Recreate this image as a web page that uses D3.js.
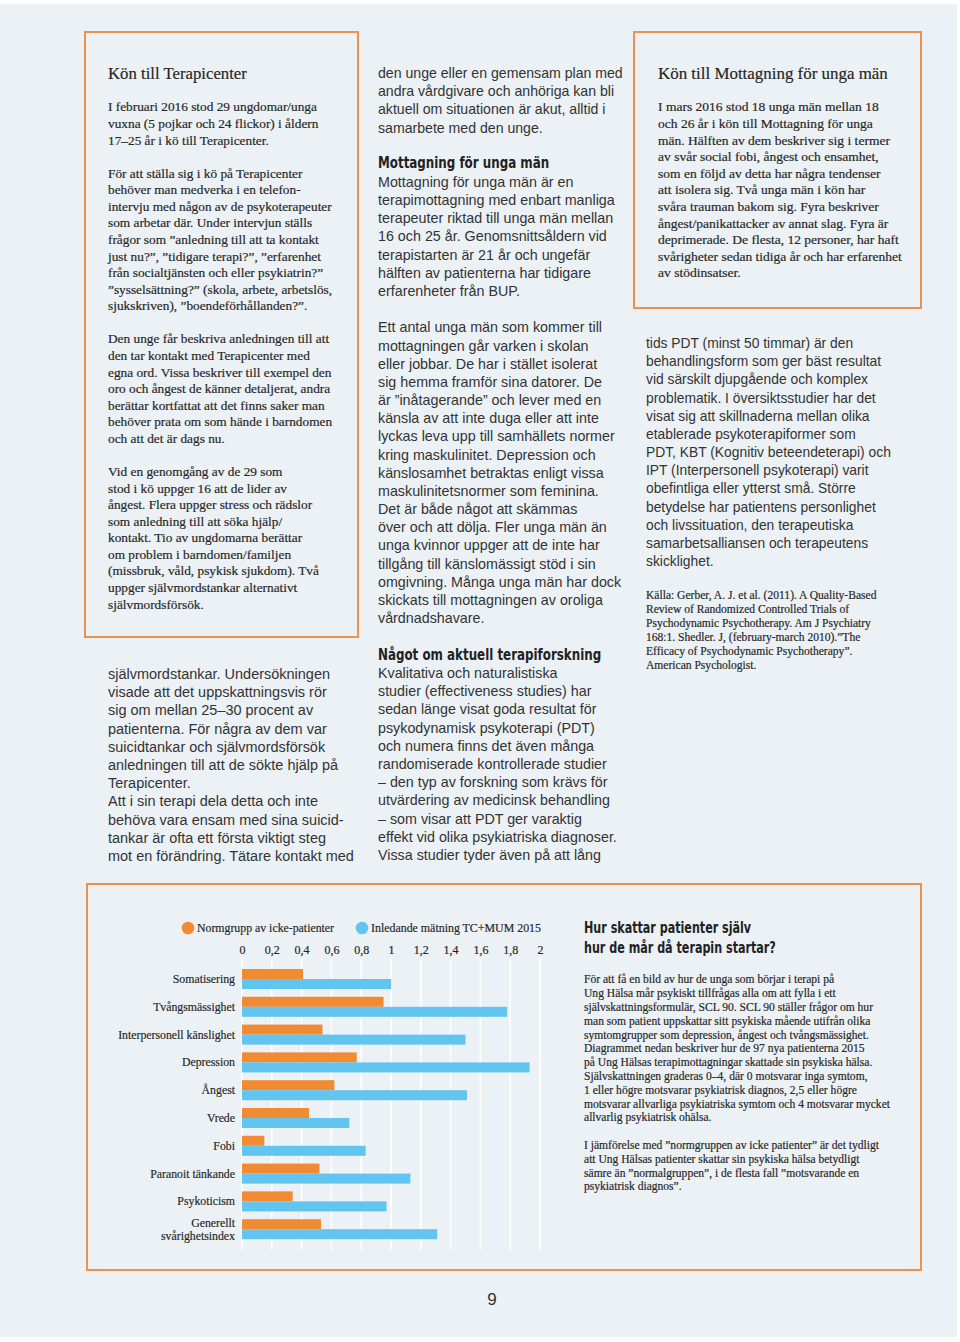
<!DOCTYPE html>
<html lang="sv">
<head>
<meta charset="utf-8">
<script src="https://cdn.jsdelivr.net/npm/d3@7"></script>
<style>
  html, body { margin: 0; padding: 0; background: #ffffff; }
  svg { display: block; }
  .serif { font-family: "Liberation Serif", "DejaVu Serif", serif; fill: #262626; stroke: #262626; stroke-width: 0.18px; }
  .sans { font-family: "Liberation Sans", Arial, sans-serif; fill: #333333; }
  .cond { font-family: "DejaVu Sans Condensed", "DejaVu Sans", sans-serif; font-stretch: condensed; font-weight: bold; fill: #222222; }
</style>
</head>
<body>
<svg id="page" width="960" height="1342"></svg>
<script>
// ---------------- Chart data ----------------
const categories = ["Somatisering", "Tvångsmässighet", "Interpersonell känslighet", "Depression", "Ångest", "Vrede", "Fobi", "Paranoit tänkande", "Psykoticism", "Generellt svårighetsindex"];
const categoryLabelLines = [["Somatisering"], ["Tvångsmässighet"], ["Interpersonell känslighet"], ["Depression"], ["Ångest"], ["Vrede"], ["Fobi"], ["Paranoit tänkande"], ["Psykoticism"], ["Generellt", "svårighetsindex"]];
const seriesNames = ["Normgrupp av icke-patienter", "Inledande mätning TC+MUM 2015"];
const normValues = [0.41, 0.95, 0.54, 0.77, 0.62, 0.45, 0.15, 0.52, 0.34, 0.53];
const patientValues = [1.00, 1.78, 1.50, 1.93, 1.51, 0.72, 0.83, 1.13, 0.97, 1.31];
const tickValues = [0, 0.2, 0.4, 0.6, 0.8, 1, 1.2, 1.4, 1.6, 1.8, 2];
const tickLabels = ["0", "0,2", "0,4", "0,6", "0,8", "1", "1,2", "1,4", "1,6", "1,8", "2"];
const seriesColors = ["#f28a32", "#62c5ef"];

// ---------------- Page text ----------------
const box1Title = "Kön till Terapicenter";
const box1Lines = [
  "I februari 2016 stod 29 ungdomar/unga",
  "vuxna (5 pojkar och 24 flickor) i åldern",
  "17–25 år i kö till Terapicenter.",
  "",
  "För att ställa sig i kö på Terapicenter",
  "behöver man medverka i en telefon-",
  "intervju med någon av de psykoterapeuter",
  "som arbetar där. Under intervjun ställs",
  "frågor som ”anledning till att ta kontakt",
  "just nu?”, ”tidigare terapi?”, ”erfarenhet",
  "från socialtjänsten och eller psykiatrin?”",
  "”sysselsättning?” (skola, arbete, arbetslös,",
  "sjukskriven), ”boendeförhållanden?”.",
  "",
  "Den unge får beskriva anledningen till att",
  "den tar kontakt med Terapicenter med",
  "egna ord. Vissa beskriver till exempel den",
  "oro och ångest de känner detaljerat, andra",
  "berättar kortfattat att det finns saker man",
  "behöver prata om som hände i barndomen",
  "och att det är dags nu.",
  "",
  "Vid en genomgång av de 29 som",
  "stod i kö uppger 16 att de lider av",
  "ångest. Flera uppger stress och rädslor",
  "som anledning till att söka hjälp/",
  "kontakt. Tio av ungdomarna berättar",
  "om problem i barndomen/familjen",
  "(missbruk, våld, psykisk sjukdom). Två",
  "uppger självmordstankar alternativt",
  "självmordsförsök."
];
const col1Lines = [
  "självmordstankar. Undersökningen",
  "visade att det uppskattningsvis rör",
  "sig om mellan 25–30 procent av",
  "patienterna. För några av dem var",
  "suicidtankar och självmordsförsök",
  "anledningen till att de sökte hjälp på",
  "Terapicenter.",
  "Att i sin terapi dela detta och inte",
  "behöva vara ensam med sina suicid-",
  "tankar är ofta ett första viktigt steg",
  "mot en förändring. Tätare kontakt med"
];
const col2aLines = [
  "den unge eller en gemensam plan med",
  "andra vårdgivare och anhöriga kan bli",
  "aktuell om situationen är akut, alltid i",
  "samarbete med den unge."
];
const col2Heading1 = "Mottagning för unga män";
const col2bLines = [
  "Mottagning för unga män är en",
  "terapimottagning med enbart manliga",
  "terapeuter riktad till unga män mellan",
  "16 och 25 år. Genomsnittsåldern vid",
  "terapistarten är 21 år och ungefär",
  "hälften av patienterna har tidigare",
  "erfarenheter från BUP.",
  "",
  "Ett antal unga män som kommer till",
  "mottagningen går varken i skolan",
  "eller jobbar. De har i stället isolerat",
  "sig hemma framför sina datorer. De",
  "är ”inåtagerande” och lever med en",
  "känsla av att inte duga eller att inte",
  "lyckas leva upp till samhällets normer",
  "kring maskulinitet. Depression och",
  "känslosamhet betraktas enligt vissa",
  "maskulinitetsnormer som feminina.",
  "Det är både något att skämmas",
  "över och att dölja. Fler unga män än",
  "unga kvinnor uppger att de inte har",
  "tillgång till känslomässigt stöd i sin",
  "omgivning. Många unga män har dock",
  "skickats till mottagningen av oroliga",
  "vårdnadshavare."
];
const col2Heading2 = "Något om aktuell terapiforskning";
const col2cLines = [
  "Kvalitativa och naturalistiska",
  "studier (effectiveness studies) har",
  "sedan länge visat goda resultat för",
  "psykodynamisk psykoterapi (PDT)",
  "och numera finns det även många",
  "randomiserade kontrollerade studier",
  "– den typ av forskning som krävs för",
  "utvärdering av medicinsk behandling",
  "– som visar att PDT ger varaktig",
  "effekt vid olika psykiatriska diagnoser.",
  "Vissa studier tyder även på att lång"
];
const box2Title = "Kön till Mottagning för unga män";
const box2Lines = [
  "I mars 2016 stod 18 unga män mellan 18",
  "och 26 år i kön till Mottagning för unga",
  "män. Hälften av dem beskriver sig i termer",
  "av svår social fobi, ångest och ensamhet,",
  "som en följd av detta har några tendenser",
  "att isolera sig. Två unga män i kön har",
  "svåra trauman bakom sig. Fyra beskriver",
  "ångest/panikattacker av annat slag. Fyra är",
  "deprimerade. De flesta, 12 personer, har haft",
  "svårigheter sedan tidiga år och har erfarenhet",
  "av stödinsatser."
];
const col3Lines = [
  "tids PDT (minst 50 timmar) är den",
  "behandlingsform som ger bäst resultat",
  "vid särskilt djupgående och komplex",
  "problematik. I översiktsstudier har det",
  "visat sig att skillnaderna mellan olika",
  "etablerade psykoterapiformer som",
  "PDT, KBT (Kognitiv beteendeterapi) och",
  "IPT (Interpersonell psykoterapi) varit",
  "obefintliga eller ytterst små. Större",
  "betydelse har patientens personlighet",
  "och livssituation, den terapeutiska",
  "samarbetsalliansen och terapeutens",
  "skicklighet."
];
const sourceLines = [
  "Källa: Gerber, A. J. et al. (2011). A Quality-Based",
  "Review of Randomized Controlled Trials of",
  "Psychodynamic Psychotherapy. Am J Psychiatry",
  "168:1.  Shedler. J, (february-march 2010).”The",
  "Efficacy of Psychodynamic Psychotherapy”.",
  "American Psychologist."
];
const chartHeadingLines = ["Hur skattar patienter själv", "hur de mår då terapin startar?"];
const chartTextLines = [
  "För att få en bild av hur de unga som börjar i terapi på",
  "Ung Hälsa mår psykiskt tillfrågas alla om att fylla i ett",
  "självskattningsformulär, SCL 90. SCL 90 ställer frågor om hur",
  "man som patient uppskattar sitt psykiska mående utifrån olika",
  "symtomgrupper som depression, ångest och tvångsmässighet.",
  "Diagrammet nedan beskriver hur de 97 nya patienterna 2015",
  "på Ung Hälsas terapimottagningar skattade sin psykiska hälsa.",
  "Självskattningen graderas 0–4, där 0 motsvarar inga symtom,",
  "1 eller högre motsvarar psykiatrisk diagnos, 2,5 eller högre",
  "motsvarar allvarliga psykiatriska symtom och 4 motsvarar mycket",
  "allvarlig psykiatrisk ohälsa.",
  "",
  "I jämförelse med ”normgruppen av icke patienter” är det tydligt",
  "att Ung Hälsas patienter skattar sin psykiska hälsa betydligt",
  "sämre än ”normalgruppen”, i de flesta fall ”motsvarande en",
  "psykiatrisk diagnos”."
];
const pageNumber = "9";

// ---------------- Drawing ----------------
const svg = d3.select("#page");

svg.append("rect").attr("x", 0).attr("y", 4).attr("width", 957).attr("height", 1333).attr("fill", "#ebf1f5");

const frames = [
  {x: 85, y: 32, w: 273, h: 605},
  {x: 634, y: 32, w: 287, h: 276},
  {x: 87, y: 884, w: 834, h: 386}
];
svg.selectAll("rect.frame").data(frames).join("rect")
  .attr("class", "frame")
  .attr("x", d => d.x).attr("y", d => d.y).attr("width", d => d.w).attr("height", d => d.h)
  .attr("fill", "none").attr("stroke", "#ea9250").attr("stroke-width", 2);

// text block with horizontal fit to measured reference width
function block(b) {
  const g = svg.append("g");
  const t = g.selectAll("text").data(b.lines).join("text")
    .attr("class", b.cls)
    .attr("x", 0)
    .attr("y", (d, i) => b.y + i * b.lh)
    .attr("font-size", b.size)
    .text(d => d);
  let k = 1;
  if (b.refW) {
    const w = t.nodes()[b.ref || 0].getComputedTextLength();
    if (w > 0) k = Math.max(0.8, Math.min(1.25, b.refW / w));
  }
  g.attr("transform", `translate(${b.x},0) scale(${k},1)`);
  return g;
}

// Box 1
block({x: 108, y: 79.5, lh: 0, size: 17.5, cls: "serif", lines: [box1Title], ref: 0, refW: 139});
block({x: 108, y: 111.5, lh: 16.57, size: 13.3, cls: "serif", lines: box1Lines, ref: 6, refW: 224});
// Column 1 (sans)
block({x: 108, y: 679, lh: 18.2, size: 14, cls: "sans", lines: col1Lines, ref: 10, refW: 246});
// Column 2
block({x: 378, y: 78, lh: 18.2, size: 14, cls: "sans", lines: col2aLines, ref: 0, refW: 245});
block({x: 378, y: 168, lh: 0, size: 16.5, cls: "cond", lines: [col2Heading1], ref: 0, refW: 159});
block({x: 378, y: 187, lh: 18.17, size: 14, cls: "sans", lines: col2bLines, ref: 1, refW: 237});
block({x: 378, y: 660, lh: 0, size: 16.5, cls: "cond", lines: [col2Heading2], ref: 0, refW: 208});
block({x: 378, y: 678, lh: 18.2, size: 14, cls: "sans", lines: col2cLines, ref: 9, refW: 239});
// Box 2
block({x: 658, y: 79.5, lh: 0, size: 17.5, cls: "serif", lines: [box2Title], ref: 0, refW: 230});
block({x: 658, y: 111.5, lh: 16.6, size: 12.8, cls: "serif", lines: box2Lines, ref: 9, refW: 244});
// Column 3
block({x: 646, y: 348, lh: 18.17, size: 14, cls: "sans", lines: col3Lines, ref: 6, refW: 245});
block({x: 646, y: 599, lh: 14, size: 11.8, cls: "serif", lines: sourceLines, ref: 2, refW: 225});
// Chart text
block({x: 584, y: 933, lh: 20, size: 15.5, cls: "cond", lines: chartHeadingLines, ref: 1, refW: 191});
block({x: 584, y: 983.5, lh: 13.8, size: 11.6, cls: "serif", lines: chartTextLines, ref: 9, refW: 306});

// page number
svg.append("text").attr("class", "sans").attr("x", 492).attr("y", 1305)
  .attr("text-anchor", "middle").attr("font-size", 17).text(pageNumber);

// ---------------- Bar chart ----------------
const x = d3.scaleLinear().domain([0, 2]).range([242, 540]);
const y = d3.scaleBand().domain(categories).range([964, 1244.2]).paddingInner(0.28).paddingOuter(0.18);
const ySub = d3.scaleBand().domain([0, 1]).range([0, y.bandwidth()]);

const chart = svg.append("g");

// gridlines
chart.append("g").selectAll("line").data(tickValues).join("line")
  .attr("x1", d => x(d)).attr("x2", d => x(d))
  .attr("y1", 959).attr("y2", 1250)
  .attr("stroke", "#ffffff").attr("stroke-width", 1.6);

// top axis labels
const axis = d3.axisTop(x).tickValues(tickValues).tickFormat((d, i) => tickLabels[i]).tickSize(0).tickPadding(0);
const axG = chart.append("g").attr("transform", "translate(0,954)").call(axis);
axG.select(".domain").remove();
axG.selectAll("text")
  .attr("class", "serif")
  .attr("font-family", "\"Liberation Serif\", serif")
  .attr("font-size", 12)
  .attr("fill", "#262626");

// bars
const rows = categories.map((c, i) => ({cat: c, vals: [normValues[i], patientValues[i]]}));
const grp = chart.append("g").selectAll("g").data(rows).join("g")
  .attr("transform", d => `translate(0,${y(d.cat)})`);
grp.selectAll("rect").data(d => d.vals.map((v, s) => ({v, s}))).join("rect")
  .attr("x", x(0))
  .attr("y", d => ySub(d.s))
  .attr("width", d => x(d.v) - x(0))
  .attr("height", ySub.bandwidth())
  .attr("fill", d => seriesColors[d.s]);

// category labels (horizontally fitted so the widest label matches the reference)
const labG = chart.append("g");
const lab = labG.selectAll("text").data(categories.map((c, i) => ({c, lines: categoryLabelLines[i]}))).join("text")
  .attr("class", "serif")
  .attr("font-size", 12.8)
  .attr("text-anchor", "end")
  .attr("x", 0)
  .attr("y", d => y(d.c) + y.bandwidth() / 2 + 4 - (d.lines.length - 1) * 6);
lab.selectAll("tspan").data(d => d.lines).join("tspan")
  .attr("x", 0)
  .attr("dy", (d, i) => i === 0 ? 0 : 12.5)
  .text(d => d);
const labW = lab.nodes()[2].getComputedTextLength();
labG.attr("transform", `translate(235,0) scale(${117 / labW},1)`);

// legend
const legX = [188, 362];
const legW = [137, 170];
const leg = chart.append("g").selectAll("g").data(seriesNames).join("g")
  .attr("transform", (d, i) => `translate(${legX[i]},928)`);
leg.append("circle").attr("r", 6.3).attr("fill", (d, i) => seriesColors[i]);
leg.append("text").attr("class", "serif").attr("x", 9).attr("y", 4.2).attr("font-size", 12.8)
  .attr("textLength", (d, i) => legW[i]).attr("lengthAdjust", "spacingAndGlyphs")
  .text(d => d);
</script>
</body>
</html>
